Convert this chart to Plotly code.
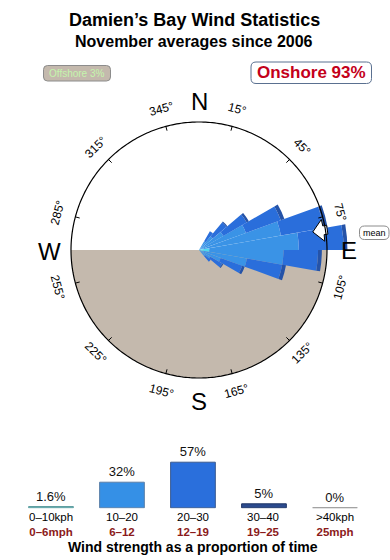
import math
import plotly.graph_objects as go

# ---------------- data ----------------
TITLE = "Damien’s Bay Wind Statistics"
SUBTITLE = "November averages since 2006"
OFFSHORE = "Offshore 3%"
ONSHORE = "Onshore 93%"

# wind rose: direction sectors (deg, compass) and radial lengths per speed class
# (units: the reference circle = 100)
DIRECTIONS = [35, 45, 55, 65, 75, 85, 95, 105, 115, 125, 135]
SECTOR_WIDTH = 10
ROSE_0_10 = [0, 0, 0, 1, 3, 8, 8, 3, 0, 0, 0]
ROSE_10_20 = [8, 14, 22, 38, 62, 70, 58, 35, 18, 10, 6]
ROSE_20_30 = [9, 14, 21, 29, 34, 35, 27, 28, 18, 11, 6]
ROSE_30_40 = [0, 1, 2, 3, 3, 3, 3, 3, 2, 1, 0]
MEAN_DIR = 81
CIRCLE = 100

TICK_ANGLES = [15, 45, 75, 105, 135, 165, 195, 225, 255, 285, 315, 345]
COMPASS = ["N", "E", "S", "W"]
COMPASS_ANGLES = [0, 90, 180, 270]

# wind strength histogram
SPEED_KPH = ["0–10kph", "10–20", "20–30", "30–40", ">40kph"]
SPEED_MPH = ["0–6mph", "6–12", "12–19", "19–25", "25mph"]
SPEED_PCT = [1.6, 32, 57, 5, 0]

# ---------------- styles / geometry ----------------
W, H = 390, 560
FONT = "Liberation Sans, Arial, Helvetica, sans-serif"
CX, CY = 199, 250          # rose centre (px)
RP = 150                   # polar outer radius (px)
R_CIRCLE_PX = 128          # reference circle radius (px)
RMAX = CIRCLE * RP / R_CIRCLE_PX
TAN = "#c4b9ad"
C_CYAN = "#4fd9ee"
C_LIGHT = "#3a93e6"
C_MID = "#2a6edb"
C_NAVY = "#2553a8"
DARKRED = "#8b1a1a"


def px(x):
    return x / W


def py(y):
    return 1 - y / H


def rounded_rect(x0, y0, x1, y1, r):
    X0, X1 = px(x0), px(x1)
    Y0, Y1 = py(y0), py(y1)
    rx, ry = r / W, r / H
    return (f"M {X0+rx},{Y0} L {X1-rx},{Y0} Q {X1},{Y0} {X1},{Y0-ry} "
            f"L {X1},{Y1+ry} Q {X1},{Y1} {X1-rx},{Y1} L {X0+rx},{Y1} "
            f"Q {X0},{Y1} {X0},{Y1+ry} L {X0},{Y0-ry} Q {X0},{Y0} {X0+rx},{Y0} Z")


fig = go.Figure()

# land half (south side) as background sector
fig.add_trace(go.Barpolar(r=[CIRCLE], theta=[180], width=[180],
                          marker=dict(color=TAN, line=dict(width=0)),
                          hoverinfo="skip", subplot="polar"))

n = len(DIRECTIONS)
for vals, col in [(ROSE_0_10, C_CYAN), (ROSE_10_20, C_LIGHT),
                  (ROSE_20_30, C_MID), (ROSE_30_40, C_NAVY)]:
    fig.add_trace(go.Barpolar(r=vals, theta=DIRECTIONS, width=[SECTOR_WIDTH] * n,
                              marker=dict(color=col, line=dict(width=0)),
                              subplot="polar"))

# mean arrow (polygon in polar coords around the mean direction)
ar = [90, 98.5, 98.5, 101.5, 101.5, 98.5, 98.5, 90]
at = [MEAN_DIR, MEAN_DIR - 5, MEAN_DIR - 2, MEAN_DIR - 2,
      MEAN_DIR + 2, MEAN_DIR + 2, MEAN_DIR + 5, MEAN_DIR]
fig.add_trace(go.Scatterpolar(r=ar, theta=at, mode="lines", fill="toself",
                              fillcolor="white", line=dict(color="black", width=1),
                              subplot="polar", hoverinfo="skip"))

# outer circle
fig.add_trace(go.Scatterpolar(r=[CIRCLE] * 361, theta=list(range(361)), mode="lines",
                              line=dict(color="black", width=1.2),
                              subplot="polar", hoverinfo="skip"))
# tick marks
tr, tt = [], []
for a in TICK_ANGLES:
    tr += [CIRCLE - 3.5, CIRCLE, None]
    tt += [a, a, None]
fig.add_trace(go.Scatterpolar(r=tr, theta=tt, mode="lines",
                              line=dict(color="black", width=1),
                              subplot="polar", hoverinfo="skip"))

# histogram
fig.add_trace(go.Bar(x=SPEED_KPH, y=SPEED_PCT, base=-1, width=0.63,
                     marker=dict(color=["#5fb8c0", "#3590e6", "#2a6fdc", "#2b4b8e", "#b0b0b0"],
                                 line=dict(color=["#5f9ea0", "#5a7fa8", "#3a5a90",
                                                  "#1f3566", "#9a9a9a"], width=1)),
                     text=[f"{v:g}%" for v in SPEED_PCT], textposition="outside",
                     textfont=dict(size=13, color="#111", family=FONT),
                     cliponaxis=False, xaxis="x", yaxis="y"))

ann = []
ann.append(dict(text=f"<b>{TITLE}</b>", x=px(194), y=py(20.5), font=dict(size=18)))
ann.append(dict(text=f"<b>{SUBTITLE}</b>", x=px(194), y=py(41.5), font=dict(size=16)))
ann.append(dict(text=OFFSHORE, x=px(77), y=py(73.2), font=dict(size=10, color="#c4f5ac")))
ann.append(dict(text=f"<b>{ONSHORE}</b>", x=px(311), y=py(73), font=dict(size=17, color="#c4001a")))
ann.append(dict(text="mean", x=px(374), y=py(232.7), font=dict(size=9, color="black")))

for lab, a in zip(COMPASS, COMPASS_ANGLES):
    r = 150
    ann.append(dict(text=lab, x=px(CX + r * math.sin(math.radians(a))),
                    y=py(CY - r * math.cos(math.radians(a)) + 1),
                    font=dict(size=24, color="black")))
for a in TICK_ANGLES:
    r = 146
    ang = a if (a < 90) else (a - 180 if a < 270 else a - 360)
    ann.append(dict(text=f"{a}°", x=px(CX + r * math.sin(math.radians(a))),
                    y=py(CY - r * math.cos(math.radians(a))), textangle=ang,
                    font=dict(size=12, color="black")))

for k, m in zip(SPEED_KPH, SPEED_MPH):
    ann.append(dict(text=f"{k}<br><b><span style='color:{DARKRED}'>{m}</span></b>",
                    xref="x", x=k, y=py(524), font=dict(size=11.5, color="black")))
ann.append(dict(text="<b>Wind strength as a proportion of time</b>", x=px(193), y=py(546.5),
                font=dict(size=14, color="black")))

for a_ in ann:
    a_.setdefault("xref", "paper")
    a_["yref"] = "paper"
    a_["showarrow"] = False
    a_["xanchor"] = "center"
    a_["yanchor"] = "middle"
    a_["font"].setdefault("family", FONT)
    a_["font"].setdefault("color", "black")

shapes = [
    dict(type="path", path=rounded_rect(43.5, 65.5, 110.5, 81, 4), xref="paper", yref="paper",
         fillcolor=TAN, line=dict(color="#8c8c8c", width=1), layer="below"),
    dict(type="path", path=rounded_rect(251, 62, 371.5, 83.5, 5), xref="paper", yref="paper",
         fillcolor="white", line=dict(color="#5a7090", width=1), layer="below"),
    dict(type="path", path=rounded_rect(359.5, 226, 389, 239.5, 5), xref="paper", yref="paper",
         fillcolor="white", line=dict(color="#8c8c8c", width=1), layer="below"),
]

fig.update_layout(
    width=W, height=H, margin=dict(l=0, r=0, t=0, b=0),
    paper_bgcolor="white", plot_bgcolor="rgba(0,0,0,0)",
    showlegend=False, annotations=ann, shapes=shapes,
    font=dict(family=FONT),
    polar=dict(
        domain=dict(x=[px(CX - RP), px(CX + RP)], y=[py(CY + RP), py(CY - RP)]),
        bgcolor="rgba(0,0,0,0)", barmode="stack", bargap=0,
        radialaxis=dict(visible=False, range=[0, RMAX]),
        angularaxis=dict(rotation=90, direction="clockwise", showline=False,
                         showgrid=False, ticks="", showticklabels=False),
    ),
    xaxis=dict(domain=[0, 1], type="category", range=[-0.718, 4.775], visible=False,
               fixedrange=True),
    yaxis=dict(domain=[py(508.6), py(459)], range=[-2, 60], visible=False, fixedrange=True),
)

fig.write_html("out.html")
